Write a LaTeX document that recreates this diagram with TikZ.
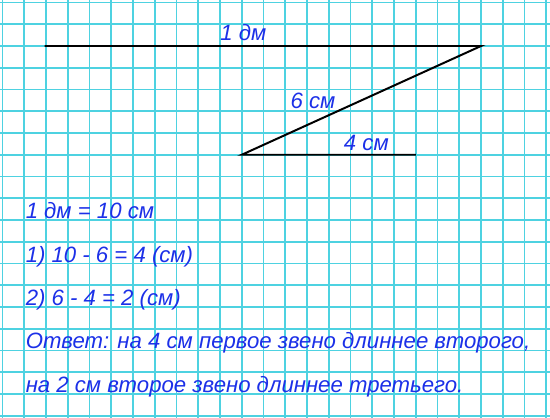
\documentclass[tikz,border=0pt]{standalone}
\usepackage{fontspec}
\setmainfont{Liberation Sans}
\usepackage{tikz}
\usetikzlibrary{positioning}

\definecolor{gridcyan}{RGB}{78,210,225}
\definecolor{inkblue}{RGB}{28,48,232}

\tikzset{
  gridline/.style={gridcyan, line width=1.1pt},
  segline/.style={black, line width=1.3pt},
  answer/.style={inkblue, anchor=base west, inner sep=0pt, font=\fontsize{14.5}{17}\selectfont\itshape}
}

\begin{document}
\begin{tikzpicture}[x=0.5cm, y=-0.5cm]
% page size (one unit = one cell)
\useasboundingbox[fill=white] (0,0) rectangle (25.287,19.218);

% draw grid
\foreach \i in {0,...,25}{
\draw[gridline] (\i+0.115, 0) -- (\i+0.115, 19.218);
}
\foreach \j in {0,...,19}{
\draw[gridline] (0, \j+0.115) -- (25.287, \j+0.115);
}

% broken line
\coordinate (A) at (2.05, 2.115);
\coordinate (B) at (22.115, 2.115);
\coordinate (C) at (11.115, 7.115);
\coordinate (D) at (19.115, 7.115);
\draw[segline] (A) -- (B) -- (C) -- (D);

% segment labels
\node[answer] (dm) at (10.12, 1.885) {1 дм};
\node[answer] (six) at (13.35, 4.97) {6 см};
\node[answer] (four) at (15.8, 6.92) {4 см};

% solution
\node[answer] (conv) at (1.17, 10.05) {1 дм = 10 см};
\node[answer] (stepone) at (1.17, 12.05) {1) 10 - 6 = 4 (см)};
\node[answer] (steptwo) at (1.17, 14.05) {2) 6 - 4 = 2 (см)};
\node[answer] (ans) at (1.17, 16.03) {Ответ: на 4 см первое звено длиннее второго,};
\node[answer] (ansb) at (1.17, 18.03) {на 2 см второе звено длиннее третьего.};

\end{tikzpicture}
\end{document}
